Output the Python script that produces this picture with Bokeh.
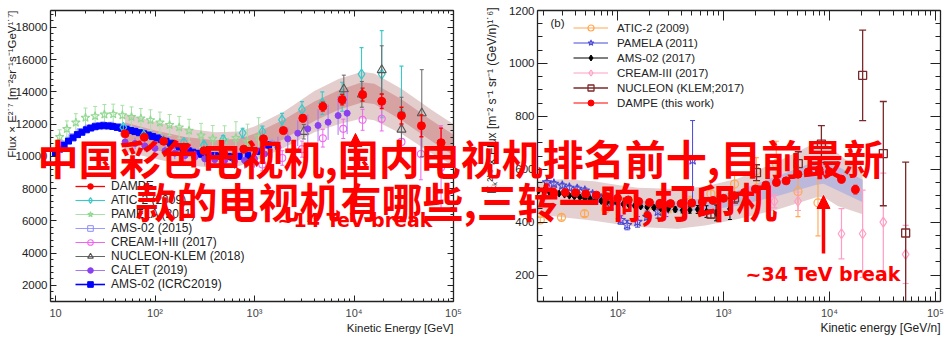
import math
from bokeh.plotting import figure
from bokeh.models import (Range1d, LogAxis, LinearAxis, LogTicker, SingleIntervalTicker, GridBox,
                          CustomJSTickFormatter, Label, Arrow, NormalHead, Legend, LegendItem)
from bokeh.layouts import row
from bokeh.embed import file_html
from bokeh.resources import INLINE

# ---------------- left panel: protons ----------------
p_band_E = [50, 100, 200, 400, 700, 1000, 2000, 4000, 7000, 12000, 16000, 30000, 60000, 100000]
p_band_out_hi = [12650, 12150, 11750, 11500, 11550, 11850, 12800, 14050, 14800, 15250, 15150, 14200, 12900, 12000]
p_band_in_hi = [12100, 11600, 11200, 11000, 11100, 11400, 12300, 13400, 14100, 14600, 14500, 13550, 12250, 11350]
p_band_in_lo = [10900, 10400, 10000, 9800, 9900, 10200, 11100, 12200, 12900, 13350, 13250, 12250, 10950, 10050]
p_band_out_lo = [10300, 9850, 9450, 9300, 9400, 9700, 10550, 11500, 12000, 12350, 12250, 11400, 10200, 9400]

p_dampe_E = [50, 78, 122, 195, 310, 490, 780, 1230, 1950, 3060, 4860, 7600, 12200, 19000, 30000, 47600, 75000]
p_dampe_V = [11400, 11190, 10940, 10570, 10350, 10200, 10450, 11090, 11600, 12370, 13090, 13520, 13830, 13420, 12530, 11900, 10850]
p_dampe_err = [60, 60, 70, 80, 90, 100, 120, 150, 180, 220, 280, 330, 400, 450, 520, 680, 900]

p_atic_E = [48, 77, 122, 195, 310, 484, 760, 1200, 1890, 3000, 4800, 7600, 11900, 19000, 30000]
p_atic_V = [11800, 11300, 11000, 10880, 10700, 11050, 11450, 11530, 12270, 12900, 13300, 13700, 15100, 15100, 12700]
p_atic_err = [150, 150, 150, 170, 200, 250, 300, 350, 400, 500, 700, 900, 1650, 2700, 2900]

p_pamela_E = [11, 13, 16, 20, 25, 31, 38, 47, 58, 72, 90, 112, 140, 175, 220, 290, 380, 500, 650, 850, 1100]
p_pamela_V = [11200, 11700, 12100, 12400, 12500, 12600, 12620, 12550, 12450, 12350, 12250, 12100, 11950, 11800,
              11600, 11300, 11100, 11000, 11150, 10900, 11200]
p_pamela_err = [450, 500, 550, 600, 600, 620, 620, 620, 620, 620, 640, 650, 650, 680, 700, 750, 820, 900, 1000, 1100, 1200]

p_ams15_E = [10, 12, 14.5, 17.5, 21, 25, 30, 36, 43, 52, 62, 75, 90, 108, 130, 156, 188, 226, 272, 327, 393, 473,
             569, 685, 870, 1150, 1500]
p_ams15_V = [10300, 10800, 11250, 11560, 11780, 11920, 11980, 11960, 11880, 11770, 11640, 11500, 11360, 11200, 11010,
             10800, 10580, 10380, 10230, 10140, 10100, 10060, 10020, 10060, 10150, 10400, 10800]
p_ams15_err = [40, 40, 40, 40, 40, 40, 40, 40, 40, 40, 40, 45, 45, 50, 55, 60, 65, 70, 80, 90, 100, 110, 130, 150,
               180, 230, 300]

p_ams19_E = [10, 11, 12.2, 13.5, 15, 16.6, 18.4, 20.4, 22.6, 25, 27.7, 30.7, 34, 37.6, 41.7, 46.2, 51.2, 56.7, 62.8,
             69.6, 77.1, 85.4, 94.6, 105, 116, 129, 143, 158, 176, 195, 216, 239, 265, 294, 326, 361, 400, 443, 491,
             544, 603, 700, 850, 1050, 1380]
p_ams19_V = [10200, 10450, 10700, 10950, 11150, 11350, 11500, 11650, 11760, 11840, 11890, 11900, 11890, 11860, 11800,
             11740, 11680, 11610, 11540, 11470, 11400, 11320, 11230, 11140, 11040, 10930, 10820, 10700, 10580, 10460,
             10350, 10260, 10190, 10130, 10090, 10060, 10040, 10020, 10000, 9990, 9950, 10000, 10050, 10300, 10700]
p_ams19_err = [30, 30, 30, 30, 30, 30, 30, 30, 30, 30, 30, 30, 30, 30, 30, 30, 30, 30, 30, 30, 30, 35, 35, 40, 40, 45,
               45, 50, 55, 60, 65, 70, 75, 80, 90, 95, 100, 110, 120, 130, 140, 150, 170, 200, 250]

p_cream_E = [1200, 1900, 3000, 4860, 7800, 12200, 19000, 30000, 47000, 75000]
p_cream_V = [9500, 9900, 10450, 11130, 11710, 12270, 12330, 10900, 10150, 9300]
p_cream_err = [400, 450, 500, 550, 600, 650, 750, 1000, 1600, 2600]

p_nucleon_E = [3130, 7900, 12000, 19000, 30000, 48000]
p_nucleon_V = [11530, 14170, 13850, 15360, 11670, 12680]
p_nucleon_err = [450, 870, 800, 1500, 2000, 2700]

p_calet_E = [50, 63, 79, 100, 126, 158, 200, 251, 316, 398, 501, 631, 794, 1000, 1260, 1720, 2160, 2720, 3430, 4350,
             5490, 6920, 8530]
p_calet_V = [10900, 10800, 10650, 10500, 10350, 10200, 10050, 9950, 9850, 9800, 9750, 9700, 9750, 9850, 10150, 10570,
             11090, 11440, 11710, 11920, 12120, 12530, 12680]
p_calet_err = [350, 350, 350, 360, 370, 380, 390, 400, 420, 440, 460, 480, 500, 550, 600, 650, 700, 800, 900, 1000,
               1100, 1200, 1300]

# ---------------- right panel: helium ----------------
he_band_E = [17.5, 30, 60, 100, 155, 370, 670, 1370, 3300, 7400, 8800, 12000, 20600]
he_band_out_hi = [556, 562, 555, 540, 530, 525, 535, 565, 630, 700, 705, 660, 585]
he_band_out_lo = [430, 418, 405, 392, 382, 375, 387, 412, 449, 493, 495, 461, 430]
he_band_in_E = [50, 100, 155, 370, 670, 1370, 3300, 7400, 8800, 12000, 20600]
he_band_in_hi = [500, 488, 480, 478, 490, 520, 575, 630, 635, 610, 560]
he_band_in_lo = [478, 462, 452, 440, 445, 462, 500, 540, 545, 520, 475]

he_dampe_E = [25, 32, 40, 50, 63, 80, 100, 126, 158, 200, 251, 316, 398, 501, 631, 794, 1000, 1260, 1580, 2000,
              2510, 3160, 3900, 5050, 6300, 8000, 10000, 13000, 17600]
he_dampe_V = [510, 512, 511, 507, 502, 496, 490, 484, 478, 474, 471, 470, 470, 472, 476, 482, 490, 500, 512, 525,
              540, 550, 556, 581, 590, 598, 590, 562, 523]
he_dampe_err = [4, 4, 4, 4, 4, 4, 4, 4, 4, 4, 5, 5, 5, 5, 6, 6, 7, 7, 8, 8, 9, 9, 10, 10, 11, 12, 13, 14, 16]

he_atic_E = [18.6, 29.5, 48.7, 77, 122, 198, 306, 484, 760, 1270, 2040, 3150, 5050, 7800]
he_atic_V = [408, 418, 432, 449, 458, 466, 454, 476, 507, 544, 594, 621, 516, 473]
he_atic_err = [10, 10, 11, 12, 14, 16, 18, 22, 28, 35, 50, 85, 95, 125]

he_pamela_E = [21.5, 25, 30, 35, 41.5, 49, 58, 70, 86, 107, 123, 154, 190, 240, 285, 510]
he_pamela_V = [550, 545, 538, 530, 526, 519, 505, 490, 463, 408, 389, 401, 420, 440, 449, 634]
he_pamela_err = [8, 8, 9, 9, 10, 10, 11, 12, 14, 16, 18, 20, 22, 25, 28, 150]

he_ams_E = [18, 20, 22.5, 25, 28, 31.5, 35, 39, 44, 49, 55, 62, 70, 79, 89, 100, 113, 128, 145, 165, 190, 220, 255,
            300, 350, 410, 480, 570, 690, 850, 1150]
he_ams_V = [520, 518, 515, 512, 508, 504, 500, 497, 494, 490, 487, 484, 480, 477, 474, 471, 468, 465, 462, 459, 457,
            455, 453, 451, 448, 445, 446, 448, 440, 435, 450]
he_ams_err = [3, 3, 3, 3, 3, 3, 3, 3, 3, 3, 3, 3, 4, 4, 4, 4, 4, 5, 5, 5, 6, 6, 7, 8, 9, 10, 12, 15, 22, 30, 40]

he_cream_E = [3030, 5050, 13000, 20600, 32300, 52500]
he_cream_V = [479, 479, 356, 356, 400, 278]
he_cream_err = [25, 35, 95, 165, 185, 110]

he_nucleon_E = [760, 1270, 2050, 5080, 8400, 20600, 32300, 52500]
he_nucleon_V = [430, 492, 587, 621, 695, 955, 659, 359]
he_nucleon_err = [15, 20, 30, 45, 70, 171, 197, 268]

x_tick_labels = {1: "10", 2: "10\u00b2", 3: "10\u00b3", 4: "10\u2074", 5: "10\u2075"}

W = 951
H = 352
FONT = "Liberation Sans"
CJK = "Noto Sans CJK SC"


def make_fig(width, xr, yr, lb, rb, tb, bb, yint, ynminor, major_in, minor_in):
    p = figure(width=width, height=H, x_axis_type="log", x_range=Range1d(*xr), y_range=Range1d(*yr),
               output_backend="svg", toolbar_location=None,
               min_border_left=lb, min_border_right=rb, min_border_top=tb, min_border_bottom=bb)
    p.xgrid.visible = False
    p.ygrid.visible = False
    p.outline_line_color = None
    p.background_fill_color = "white"
    p.border_fill_color = "white"
    xt = LogTicker(num_minor_ticks=10)
    yt = SingleIntervalTicker(interval=yint, num_minor_ticks=ynminor)
    p.xaxis.ticker = xt
    p.yaxis.ticker = yt
    code = "const m=%s; const k=Math.round(Math.log10(tick)); return m[k] || '';" % (
        "{" + ",".join("%d:'%s'" % (k, v) for k, v in x_tick_labels.items()) + "}")
    p.xaxis.formatter = CustomJSTickFormatter(code=code)
    top = LogAxis(ticker=xt, formatter=CustomJSTickFormatter(code="return '';"))
    right = LinearAxis(ticker=yt, formatter=CustomJSTickFormatter(code="return '';"))
    for ax in (top, right):
        ax.major_label_text_font_size = "1px"
        ax.major_label_standoff = 0
    p.add_layout(top, "above")
    p.add_layout(right, "right")
    for ax in p.axis:
        ax.major_tick_in = major_in
        ax.major_tick_out = 0
        ax.minor_tick_in = minor_in
        ax.minor_tick_out = 0
        ax.axis_line_color = "#222222"
        ax.axis_line_width = 1.3
        ax.major_tick_line_color = "#222222"
        ax.minor_tick_line_color = "#222222"
    for ax in (p.xaxis[0], p.yaxis[0]):
        ax.major_label_text_font = FONT
        ax.major_label_text_font_size = "11.5px"
        ax.major_label_text_color = "#222222"
    p.xaxis[0].major_label_standoff = 4
    p.yaxis[0].major_label_standoff = 3
    return p


def errbars(p, E, V, err, color, width=1.0, cap=5):
    lo = [v - e for v, e in zip(V, err)]
    hi = [v + e for v, e in zip(V, err)]
    seg = p.segment(x0=E, y0=lo, x1=E, y1=hi, line_color=color, line_width=width)
    if cap:
        p.scatter(E, lo, marker="dash", size=cap, line_color=color, line_width=width)
        p.scatter(E, hi, marker="dash", size=cap, line_color=color, line_width=width)
    return seg


def lab(p, text, cx, cy, fl, fb, **kw):
    # canvas coords (from top-left) -> frame-relative screen coords
    p.add_layout(Label(x=cx - fl, y=fb - cy, x_units="screen", y_units="screen", text=text, **kw))


def make_legend(p, entries, loc, gw, gh, standoff, fsize):
    items = [LegendItem(label=t, renderers=list(rs)) for t, rs in entries]
    lg = Legend(items=items, location=loc, orientation="vertical", glyph_width=gw, glyph_height=gh,
                label_height=gh, spacing=0, padding=0, margin=0, label_standoff=standoff,
                border_line_color=None, background_fill_alpha=0,
                label_text_font=FONT, label_text_font_size=fsize, label_text_color="#222222")
    p.add_layout(lg)


# ================= LEFT FIGURE =================
L_W = 480
L_FL, L_FB = 50, 301
p1 = make_fig(L_W, (8.9, 1.0e5), (1000, 19050), 50, 27, 10, 51, 2000, 5, 6, 3)

p1.varea(x=p_band_E, y1=p_band_out_lo, y2=p_band_out_hi, fill_color="#e3cdcd")
p1.varea(x=p_band_E, y1=p_band_in_lo, y2=p_band_in_hi, fill_color="#d6a2a2")

c_pam = "#8fd88f"
s_pam = errbars(p1, p_pamela_E, p_pamela_V, p_pamela_err, "#a8e0a8", 1.0, 4)
m_pam = p1.scatter(p_pamela_E, p_pamela_V, marker="star", size=9, fill_color=None, line_color=c_pam, line_width=1.1)

s_a15 = errbars(p1, p_ams15_E, p_ams15_V, p_ams15_err, "#9a9aff", 1.0, 0)
m_a15 = p1.scatter(p_ams15_E, p_ams15_V, marker="square", size=5, fill_color=None, line_color="#8a8aff", line_width=1)
s_a19 = errbars(p1, p_ams19_E, p_ams19_V, p_ams19_err, "#0000ff", 1.6, 0)
m_a19 = p1.scatter(p_ams19_E, p_ams19_V, marker="square", size=6, fill_color="#0000ff", line_color="#0000ff")

c_atic = "#3cc8c8"
s_atic = errbars(p1, p_atic_E, p_atic_V, p_atic_err, c_atic, 1.1, 4)
m_atic = p1.scatter(p_atic_E, p_atic_V, marker="diamond", size=10, fill_color=None, line_color=c_atic, line_width=1.2)

c_cream = "#ee66ee"
s_cream = errbars(p1, p_cream_E, p_cream_V, p_cream_err, c_cream, 1.0, 4)
m_cream = p1.scatter(p_cream_E, p_cream_V, marker="circle", size=7, fill_color=None, line_color=c_cream, line_width=1.1)

c_nuc = "#555555"
s_nuc = errbars(p1, p_nucleon_E, p_nucleon_V, p_nucleon_err, "#666666", 1.0, 4)
m_nuc = p1.scatter(p_nucleon_E, p_nucleon_V, marker="triangle", size=9, fill_color=None, line_color=c_nuc, line_width=1.1)

c_calet = "#8a3ff0"
s_cal = errbars(p1, p_calet_E, p_calet_V, p_calet_err, "#a878f4", 1.0, 0)
m_cal = p1.scatter(p_calet_E, p_calet_V, marker="circle", size=6, fill_color=c_calet, line_color=c_calet)

s_dam = errbars(p1, p_dampe_E, p_dampe_V, p_dampe_err, "#ff0000", 1.3, 4)
m_dam = p1.scatter(p_dampe_E, p_dampe_V, marker="circle", size=8, fill_color="#ff0000", line_color="#ff0000")

make_legend(p1, [
    ("DAMPE", (s_dam, m_dam)),
    ("ATIC-2 (2009)", (s_atic, m_atic)),
    ("PAMELA (2011)", (s_pam, m_pam)),
    ("AMS-02 (2015)", (s_a15, m_a15)),
    ("CREAM-I+III (2017)", (s_cream, m_cream)),
    ("NUCLEON-KLEM (2018)", (s_nuc, m_nuc)),
    ("CALET (2019)", (s_cal, m_cal)),
    ("AMS-02 (ICRC2019)", (s_a19, m_a19)),
], (25, 10), 30, 14, 6, "12px")

lab(p1, "~14 TeV break", 277, 219, L_FL, L_FB, text_font="DejaVu Sans", text_font_style="bold",
    text_font_size="19px", text_color="#ff0000", text_align="left", text_baseline="middle")
p1.add_layout(Arrow(x_start=355 - L_FL, y_start=L_FB - 205, x_end=355 - L_FL, y_end=L_FB - 133,
                    start_units="screen", end_units="screen", line_color="#ff0000", line_width=3.5,
                    end=NormalHead(size=13, fill_color="#ff0000", line_color="#ff0000")))

# ================= RIGHT FIGURE =================
R_W = W - L_W
R_FL, R_FB = 537, 304
p2 = make_fig(R_W, (17.5, 1.12e5), (100, 1200), 57, 11, 7, 48, 200, 4, 10, 5)

p2.varea(x=he_band_E, y1=he_band_out_lo, y2=he_band_out_hi, fill_color="#e4d0d0")
p2.varea(x=he_band_in_E, y1=he_band_in_lo, y2=he_band_in_hi, fill_color="#bcb8dc")

c_oat = "#ffa850"
s_oat = errbars(p2, he_atic_E, he_atic_V, he_atic_err, c_oat, 1.1, 5)
m_oat = p2.scatter(he_atic_E, he_atic_V, marker="circle", size=8, fill_color=None, line_color=c_oat, line_width=1.2)

c_pb = "#4848d8"
s_pb = errbars(p2, he_pamela_E, he_pamela_V, he_pamela_err, c_pb, 1.0, 5)
m_pb = p2.scatter(he_pamela_E, he_pamela_V, marker="star", size=10, fill_color=None, line_color=c_pb, line_width=1.1)

s_ams = errbars(p2, he_ams_E, he_ams_V, he_ams_err, "#000000", 1.0, 4)
m_ams = p2.scatter(he_ams_E, he_ams_V, marker="diamond", size=7, fill_color="#000000", line_color="#000000")

c_pk = "#ff9ec4"
s_pk = errbars(p2, he_cream_E, he_cream_V, he_cream_err, c_pk, 1.2, 6)
m_pk = p2.scatter(he_cream_E, he_cream_V, marker="diamond", size=10, fill_color=None, line_color=c_pk, line_width=1.2)

c_br = "#7a2a2a"
s_br = errbars(p2, he_nucleon_E, he_nucleon_V, he_nucleon_err, c_br, 1.3, 7)
m_br = p2.scatter(he_nucleon_E, he_nucleon_V, marker="square", size=8, fill_color=None, line_color=c_br, line_width=1.3)

s_hd = errbars(p2, he_dampe_E, he_dampe_V, he_dampe_err, "#ff0000", 1.2, 4)
m_hd = p2.scatter(he_dampe_E, he_dampe_V, marker="circle", size=8, fill_color="#ff0000", line_color="#ff0000")

make_legend(p2, [
    ("ATIC-2 (2009)", (s_oat, m_oat)),
    ("PAMELA (2011)", (s_pb, m_pb)),
    ("AMS-02 (2017)", (s_ams, m_ams)),
    ("CREAM-III (2017)", (s_pk, m_pk)),
    ("NUCLEON (KLEM;2017)", (s_br, m_br)),
    ("DAMPE (this work)", (s_hd, m_hd)),
], (36, 191), 35, 15, 9, "11.5px")

lab(p2, "(b)", 550, 25, R_FL, R_FB, text_font=FONT, text_font_size="11.5px",
    text_color="#222222", text_align="left", text_baseline="middle")
lab(p2, "~34 TeV break", 745, 276, R_FL, R_FB, text_font="DejaVu Sans", text_font_style="bold",
    text_font_size="19px", text_color="#ff0000", text_align="left", text_baseline="middle")
p2.add_layout(Arrow(x_start=823 - R_FL, y_start=R_FB - 256, x_end=823 - R_FL, y_end=R_FB - 198,
                    start_units="screen", end_units="screen", line_color="#ff0000", line_width=3.5,
                    end=NormalHead(size=13, fill_color="#ff0000", line_color="#ff0000")))

# ================= TEXT OVERLAY (whole canvas) =================
p3 = figure(width=W, height=H, x_range=Range1d(0, 1), y_range=Range1d(0, 1), output_backend="svg",
            toolbar_location=None, min_border=0, x_axis_location=None, y_axis_location=None,
            background_fill_color=None, border_fill_color=None, outline_line_color=None)
p3.xgrid.visible = False
p3.ygrid.visible = False


def olab(text, cx, cy, **kw):
    p3.add_layout(Label(x=cx, y=H - cy, x_units="screen", y_units="screen", text=text, **kw))


olab("Kinetic Energy [GeV]", 453, 327, text_font=FONT, text_font_size="11.5px",
     text_color="#222222", text_align="right", text_baseline="middle")
olab("Flux \u00d7 E\u00b2\u02d9\u2077 [m\u207b\u00b2sr\u207b\u00b9s\u207b\u00b9GeV\u00b9\u02d9\u2077]", 11, 10,
     text_font=FONT, text_font_size="11.5px", text_color="#222222",
     text_align="right", text_baseline="middle", angle=math.pi / 2)
olab("Kinetic energy [GeV/n]", 940, 327, text_font=FONT, text_font_size="12px",
     text_color="#222222", text_align="right", text_baseline="middle")
olab("E\u2096\u00b2\u02d9\u2076 \u00d7 Flux [m\u207b\u00b2 s\u207b\u00b9 sr\u207b\u00b9 (GeV/n)\u00b9\u02d9\u2076]",
     491, 7, text_font=FONT, text_font_size="12px", text_color="#222222",
     text_align="right", text_baseline="middle", angle=math.pi / 2)

cjk_kw = dict(text_font=CJK, text_font_style="bold", text_font_size="41px", text_color="#ff0000",
              text_baseline="alphabetic", text_align="left")
olab("中国彩色电视机,国内电视机排名前十,目前最新", 37, 156.5, **cjk_kw)
olab("款的电视机有哪些,三转一响,打印机", 135, 199.5, **cjk_kw)

layout = GridBox(children=[(row(p1, p2), 0, 0), (p3, 0, 0)])
open("out.html", "w").write(file_html(layout, INLINE))
